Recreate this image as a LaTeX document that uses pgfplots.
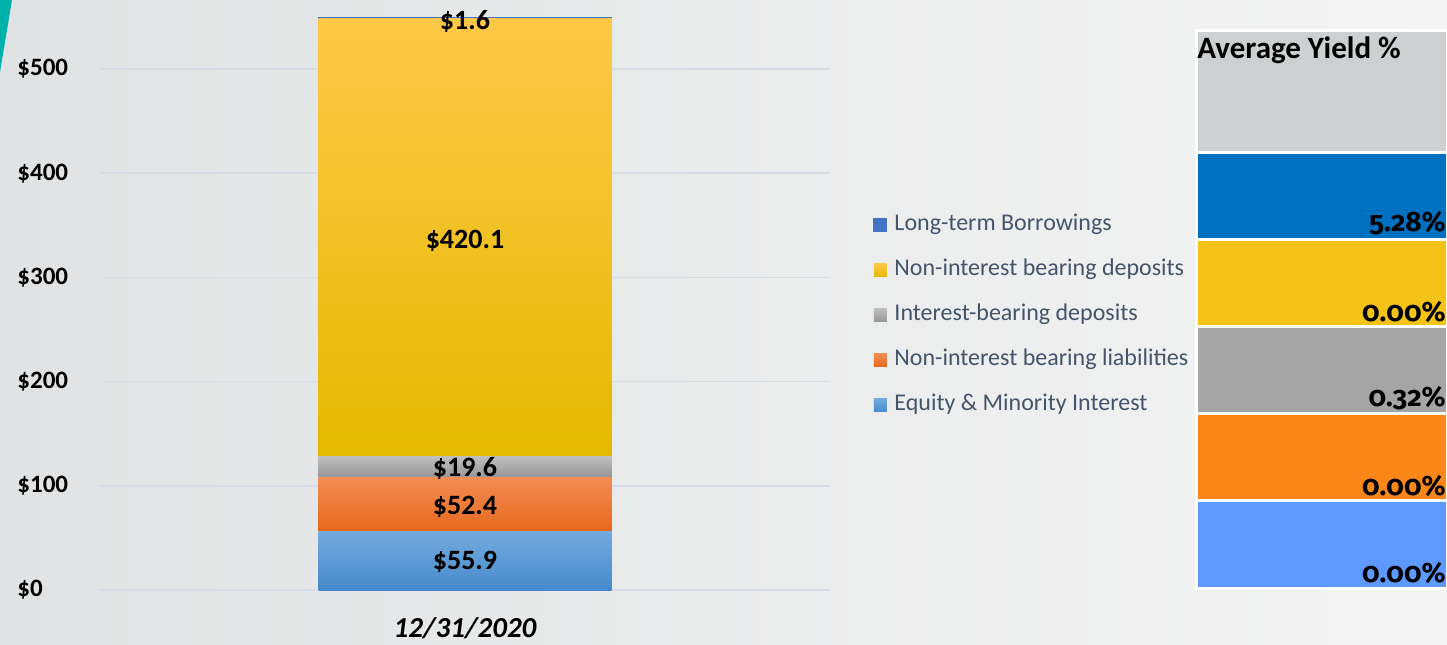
\documentclass[border=0pt]{standalone}
\usepackage{pgfplots}
\pgfplotsset{compat=1.18}
\usepackage{fontspec}
\setmainfont{Carlito}
\newfontfamily\yieldfont[Numbers=OldStyle]{Fira Sans}

\definecolor{eqtop}{RGB}{115,170,222}
\definecolor{eqbot}{RGB}{70,138,204}
\definecolor{ortop}{RGB}{242,140,85}
\definecolor{orbot}{RGB}{230,105,28}
\definecolor{grtop}{RGB}{190,190,190}
\definecolor{grbot}{RGB}{150,150,150}
\definecolor{gdtop}{RGB}{255,200,72}
\definecolor{gdbot}{RGB}{228,185,0}
\definecolor{ltb}{RGB}{68,114,196}
\definecolor{legtext}{RGB}{68,84,106}
\definecolor{gridc}{RGB}{214,221,230}
\definecolor{bgl}{RGB}{224,226,227}
\definecolor{bgr}{RGB}{244,244,244}
\definecolor{tealc}{RGB}{0,178,169}
\definecolor{yhead}{RGB}{205,208,209}
\definecolor{yblue}{RGB}{0,112,192}
\definecolor{yyel}{RGB}{245,195,21}
\definecolor{ygray}{RGB}{165,165,165}
\definecolor{yor}{RGB}{250,135,23}
\definecolor{ylb}{RGB}{93,153,255}

\tikzset{
  barlbl/.style={font=\fontsize{14}{16}\selectfont\bfseries},
  yldlbl/.style={anchor=south east, inner sep=0.5pt, font=\yieldfont\fontsize{14}{16}\selectfont\bfseries},
}

\begin{document}
\begin{tikzpicture}
% background, 1px = 0.5pt
\shade[left color=bgl,right color=bgr] (0,0) rectangle (723.5pt,-322pt);
\fill[tealc] (0,0) -- (6pt,0) -- (0,-36pt) -- cycle;

\begin{axis}[
    at={(50pt,-295pt)}, anchor=south west,
    width=365pt, height=295pt, scale only axis,
    ybar stacked, bar width=146.5pt,
    xmin=-1, xmax=1, ymin=0, ymax=566.2,
    xtick={0}, xticklabels={12/31/2020},
    ytick={0,100,...,500},
    yticklabels={\$0,\$100,\$200,\$300,\$400,\$500},
    axis line style={draw=none},
    major tick length=0pt,
    ymajorgrids, grid style={gridc, line width=0.75pt},
    yticklabel style={anchor=west, inner sep=0pt, xshift=-41.5pt,
        font=\fontsize{12.5}{15}\selectfont\bfseries},
    xticklabel style={anchor=center, yshift=-19pt,
        font=\fontsize{14.5}{17}\selectfont\bfseries\itshape},
    legend style={at={(1.059,0.637)}, anchor=north west, draw=none, fill=none,
        inner sep=0pt, row sep=12pt,
        nodes={inner sep=0pt, text height=8pt, text depth=2.5pt, text=legtext},
        font=\fontsize{12}{14}\selectfont,
        /tikz/every odd column/.append style={column sep=3.5pt}},
    legend cell align=left,
    reverse legend,
    clip=false,
]
\addplot[draw=none, top color=eqtop, bottom color=eqbot, legend image code/.code={\fill[eqtop!50!eqbot] (0pt,-3.25pt) rectangle (6.5pt,3.25pt);}] coordinates {(0,55.9)};
\addplot[draw=none, top color=ortop, bottom color=orbot, legend image code/.code={\fill[ortop!50!orbot] (0pt,-3.25pt) rectangle (6.5pt,3.25pt);}] coordinates {(0,52.4)};
\addplot[draw=none, top color=grtop, bottom color=grbot, legend image code/.code={\fill[grtop!50!grbot] (0pt,-3.25pt) rectangle (6.5pt,3.25pt);}] coordinates {(0,19.6)};
\addplot[draw=none, top color=gdtop, bottom color=gdbot, legend image code/.code={\fill[gdtop!60!gdbot] (0pt,-3.25pt) rectangle (6.5pt,3.25pt);}] coordinates {(0,420.1)};
\addplot[draw=ltb, line width=0.5pt, fill=ltb, legend image code/.code={\fill[ltb] (0pt,-3.25pt) rectangle (6.5pt,3.25pt);}] coordinates {(0,1.6)};
\legend{Equity \& Minority Interest, Non-interest bearing liabilities,
    Interest-bearing deposits, Non-interest bearing deposits, Long-term Borrowings}
\draw[gridc, line width=0.75pt] (rel axis cs:0,0) -- (rel axis cs:1,0);
\coordinate (b1) at (axis cs:0,27.0);
\coordinate (b2) at (axis cs:0,80.0);
\coordinate (b3) at (axis cs:0,116.5);
\coordinate (b4) at (axis cs:0,335.0);
\coordinate (b5) at (axis cs:0,546.0);
\end{axis}
\node[barlbl] at (b1) {\$55.9};
\node[barlbl] at (b2) {\$52.4};
\node[barlbl] at (b3) {\$19.6};
\node[barlbl] at (b4) {\$420.1};
\node[barlbl] at (b5) {\$1.6};

% average yield table
\begin{axis}[
    at={(598pt,-294pt)}, anchor=south west,
    width=125.5pt, height=279pt, scale only axis,
    hide axis, clip=false,
    ybar stacked, bar width=125.5pt,
    xmin=-0.5, xmax=0.5, ymin=0, ymax=6.4,
]
\addplot[draw=white, line width=1.5pt, fill=ylb] coordinates {(0,1)};
\addplot[draw=white, line width=1.5pt, fill=yor] coordinates {(0,1)};
\addplot[draw=white, line width=1.5pt, fill=ygray] coordinates {(0,1)};
\addplot[draw=white, line width=1.5pt, fill=yyel] coordinates {(0,1)};
\addplot[draw=white, line width=1.5pt, fill=yblue] coordinates {(0,1)};
\addplot[draw=white, line width=1.5pt, fill=yhead] coordinates {(0,1.4)};
\coordinate (y1) at (axis cs:0.5,0.03);
\coordinate (y2) at (axis cs:0.5,1.03);
\coordinate (y3) at (axis cs:0.5,2.03);
\coordinate (y4) at (axis cs:0.5,3.03);
\coordinate (y5) at (axis cs:0.5,4.03);
\coordinate (yh) at (axis cs:-0.5,6.4);
\end{axis}
\node[yldlbl] at (y1) {0.00\%};
\node[yldlbl] at (y2) {0.00\%};
\node[yldlbl] at (y3) {0.32\%};
\node[yldlbl] at (y4) {0.00\%};
\node[yldlbl] at (y5) {5.28\%};
\node[anchor=north west, inner sep=0.5pt, yshift=-2.5pt,
    font=\fontsize{15.5}{18}\selectfont\bfseries] at (yh) {Average Yield \%};

\pgfresetboundingbox
\path (0,0) rectangle (723.5pt,-322pt);
\end{tikzpicture}
\end{document}
